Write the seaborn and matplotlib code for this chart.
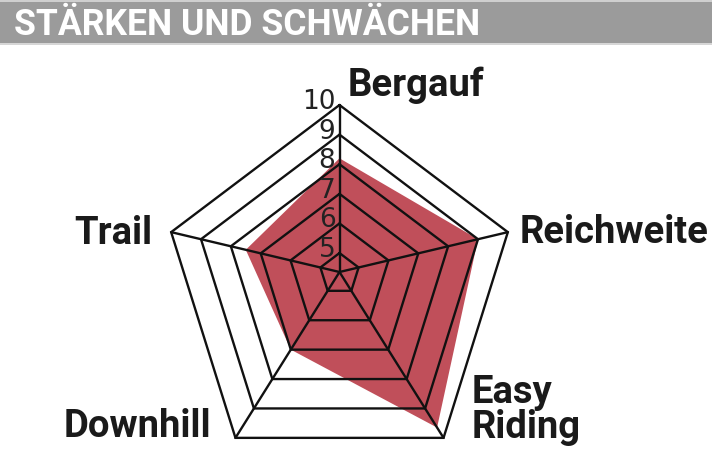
import numpy as np
import pandas as pd
import matplotlib.pyplot as plt
import seaborn as sns

# data
categories = ["Bergauf", "Reichweite", "Easy\nRiding", "Downhill", "Trail"]
scores = [8.2, 9.0, 9.65, 7.0, 7.5]
ring_levels = [5, 6, 7, 8, 9, 10]
tick_labels = ["5", "6", "7", "8", "9", "10"]
title = "STÄRKEN UND SCHWÄCHEN"

sns.set_theme(style="white")
plt.rcParams["font.family"] = ["Roboto", "DejaVu Sans"]

# radar geometry in pixel units, origin where the spokes meet
v_min, v_max = 4.36, 10
rx, ry, y_shift = 177, 184, 17
phi = np.deg2rad(np.arange(len(categories)) * 72)
outer_x = rx * np.sin(phi)
outer_y = ry * np.cos(phi) - y_shift


def to_xy(values):
    s = (np.asarray(values, float) - v_min) / (v_max - v_min)
    return s * outer_x, s * outer_y


fig = plt.figure(figsize=(7.12, 4.7), dpi=100)
ax = fig.add_axes([0, 0, 1, 1])
ax.set_xlim(-339.5, 712 - 339.5)
ax.set_ylim(272 - 470, 272)
ax.axis("off")

# title band
ax.axhspan(229, 270, color="#9b9b9b", lw=0, zorder=0)
ax.axhspan(270, 272, color="#cfcfcf", lw=0, zorder=0)
ax.axhspan(227, 229, color="#d6d6d6", lw=0, zorder=0)
ax.text(-339.5 + 14, 272 - 35, title, ha="left", va="baseline",
        color="white", fontsize=25.6, fontweight="bold")

# filled score polygon
sx, sy = to_xy(scores)
ax.fill(sx, sy, color="#c04f5a", lw=0, zorder=1)

# rings
rows = []
for lev in ring_levels:
    x, y = to_xy([lev] * len(categories))
    for xi, yi in zip(np.append(x, x[0]), np.append(y, y[0])):
        rows.append({"ring": lev, "x": xi, "y": yi})
rings = pd.DataFrame(rows)
sns.lineplot(data=rings, x="x", y="y", units="ring", estimator=None, sort=False,
             color="#111111", lw=1.7, ax=ax, zorder=2, legend=False)
for line in ax.lines:
    line.set_solid_joinstyle("miter")

# spokes
ox, oy = to_xy([v_max] * len(categories))
for xi, yi in zip(ox, oy):
    ax.plot([0, xi], [0, yi], color="#111111", lw=1.7, zorder=2)

# ring value labels along the top spoke
for lev, lab in zip(ring_levels, tick_labels):
    _, ty = to_xy([lev] * len(categories))
    ax.text(-4, ty[0] - 4, lab, ha="right", va="baseline", color="#222222",
            fontsize=19, family=["Liberation Sans Narrow", "DejaVu Sans"], zorder=3)

# category labels (pixel anchor, alignment)
label_pos = [(348, 96, "left"), (520, 243, "left"), (472, 403, "left"),
             (211, 437, "right"), (152, 244, "right")]
for name, (px, py, ha) in zip(categories, label_pos):
    for i, part in enumerate(name.split("\n")):
        ax.text(px - 339.5, 272 - py - i * 35, part, ha=ha, va="baseline",
                color="#1a1a1a", fontsize=27.5, fontweight="bold")

fig.savefig("out.png", dpi=100)
